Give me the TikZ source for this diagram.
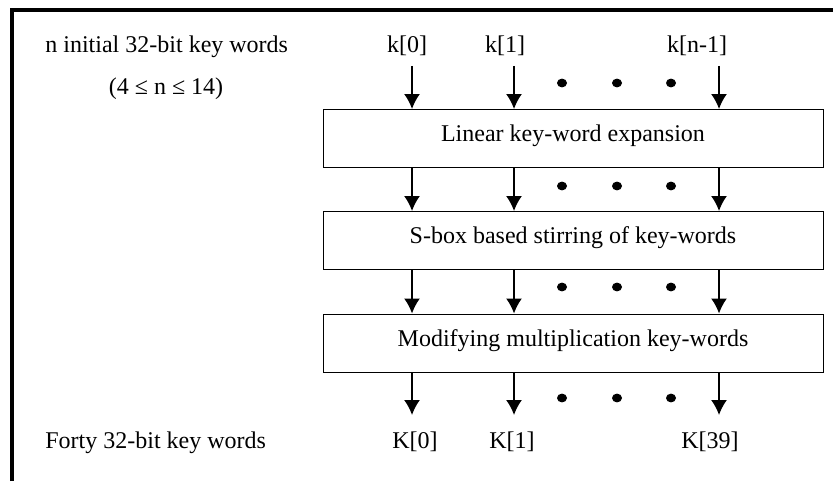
\documentclass[tikz,border=0pt]{standalone}
\usepackage{fontspec}
\setmainfont{Liberation Serif}
\usetikzlibrary{arrows.meta, calc, positioning}

\begin{document}
\begin{tikzpicture}[x=0.5pt,y=-0.5pt,
 keybox/.style={draw, line width=0.5pt, minimum width=250pt, minimum height=29pt, inner sep=0pt, text height=6pt, text depth=3pt, font=\fontsize{12}{14}\selectfont},
 lbl/.style={inner sep=0pt, font=\fontsize{12}{14}\selectfont},
 flow/.style={-{Latex[length=7.5pt,width=8pt]}, line width=0.8pt}]
\useasboundingbox (0,0) rectangle (833,481);
\draw [line width=1.6pt] (12,481) -- (12,10) -- (833,10);
\node[lbl, anchor=base west] (nin) at (45,53) {n initial 32-bit key words};
\node[lbl, anchor=base] (nrange) at (166,95) {(4 ≤ n ≤ 14)};
\node[lbl, anchor=base west] (forty) at (45,448) {Forty 32-bit key words};
\node[keybox] (lin) at (573,138.5) {Linear key-word expansion};
\node[keybox] (sbox) at (573,240.5) {S-box based stirring of key-words};
\node[keybox] (mult) at (573,343) {Modifying multiplication key-words};
\foreach \X/\L/\T/\B/\U [count=\i] in {412/407/k[0]/415/K[0], 514/505/k[1]/512/K[1], 719/697/k[n-1]/710/K[39]}
{\node[lbl, anchor=base] (k\i) at (\L,53) {\T};
 \node[lbl, anchor=base] (K\i) at (\B,448) {\U};
 \coordinate (top\i) at (\X,66);
 \coordinate (bot\i) at (\X,415);
 \draw [flow] (top\i) -- (top\i |- lin.north);
 \draw [flow] (top\i |- lin.south) -- (top\i |- sbox.north);
 \draw [flow] (top\i |- sbox.south) -- (top\i |- mult.north);
 \draw [flow] (top\i |- mult.south) -- (bot\i);
}
\foreach \Y in {83,186,287,398}
{\foreach \X in {562,617,671}
 {\fill (\X,\Y) ellipse(2.5pt and 2.2pt); }
}
\end{tikzpicture}
\end{document}
